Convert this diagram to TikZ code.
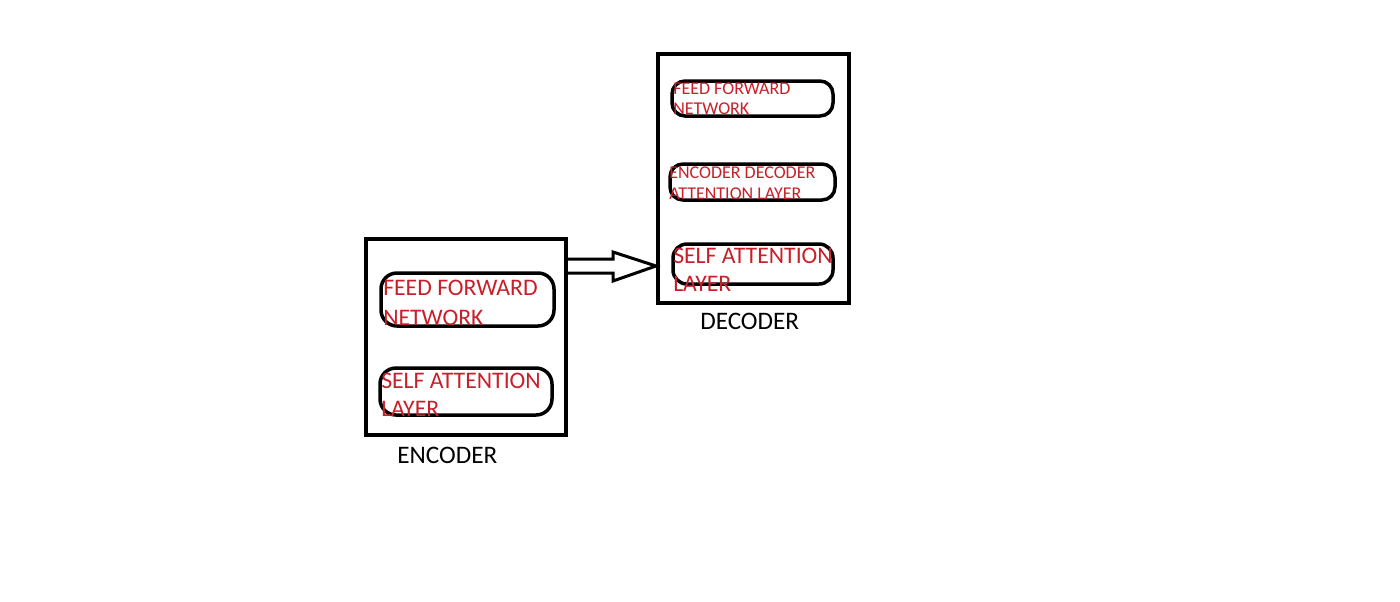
\documentclass[tikz,border=0pt]{standalone}
\usepackage{fontspec}
\setmainfont{Carlito}
\usetikzlibrary{calc}
\newdimen\pxu \pxu=0.75pt
\definecolor{txtred}{RGB}{200,32,42}
\begin{document}
\begin{tikzpicture}[x=0.75pt,y=-0.75pt,
  outerbox/.style={draw=black,line width=4\pxu,rectangle,inner sep=0pt},
  layerbox/.style={draw=black,line width=3.5\pxu,rectangle,rounded corners=16\pxu,inner sep=0pt},
  bigtxt/.style={text=txtred,inner sep=0pt,anchor=base west,font=\fontsize{17.8pt}{21.5pt}\selectfont},
  smalltxt/.style={text=txtred,inner sep=0pt,anchor=base west,font=\fontsize{13.5pt}{15.4pt}\selectfont},
  lbl/.style={text=black,inner sep=0pt,anchor=base west,font=\fontsize{18.9pt}{22pt}\selectfont},
  blockarrow/.style={draw=black,line width=3\pxu,line join=miter}]
\useasboundingbox[fill=white] (0,0) rectangle (1400,601);
% encoder
\node[outerbox,minimum width=200\pxu,minimum height=196\pxu] (enc) at (466,337) {};
\node[layerbox,minimum width=173\pxu,minimum height=53\pxu] (effn) at (467.5,299.5) {};
\node[layerbox,minimum width=172\pxu,minimum height=47\pxu] (esal) at (466,391.5) {};
\node[bigtxt] (effnt) at (383,295) {\begin{tabular}[t]{@{}l@{}}FEED FORWARD\\[1pt]NETWORK\end{tabular}};
\node[bigtxt] (esalt) at (381,388) {\begin{tabular}[t]{@{}l@{}}SELF ATTENTION\\LAYER\end{tabular}};
\node[lbl] (encl) at (397,463) {ENCODER};
% decoder
\node[outerbox,minimum width=191\pxu,minimum height=249\pxu] (dec) at (753.5,178.5) {};
\node[layerbox,rounded corners=13\pxu,minimum width=161\pxu,minimum height=35\pxu] (dffn) at (752.5,98.5) {};
\node[layerbox,rounded corners=13\pxu,minimum width=165\pxu,minimum height=36\pxu] (ded) at (752.5,182) {};
\node[layerbox,rounded corners=14\pxu,minimum width=160\pxu,minimum height=40\pxu] (dsal) at (753,264) {};
\node[smalltxt] (dffnt) at (673,94) {\begin{tabular}[t]{@{}l@{}}FEED FORWARD\\NETWORK\end{tabular}};
\node[smalltxt] (dedt) at (669,178) {\begin{tabular}[t]{@{}l@{}}ENCODER DECODER\\[0.5pt]ATTENTION LAYER\end{tabular}};
\node[bigtxt] (dsalt) at (673,263) {\begin{tabular}[t]{@{}l@{}}SELF ATTENTION\\LAYER\end{tabular}};
\node[lbl] (decl) at (700,329) {DECODER};
% arrow
\coordinate (arrS) at (enc.east |- 0,266);
\coordinate (arrE) at (dec.west |- 0,266);
\draw[blockarrow] ($(arrS)+(0,-7)$) -- ($(arrE)+(-43,-7)$) -- ($(arrE)+(-43,-14)$) -- (arrE)
  -- ($(arrE)+(-43,15)$) -- ($(arrE)+(-43,7)$) -- ($(arrS)+(0,7)$);
\end{tikzpicture}
\end{document}
